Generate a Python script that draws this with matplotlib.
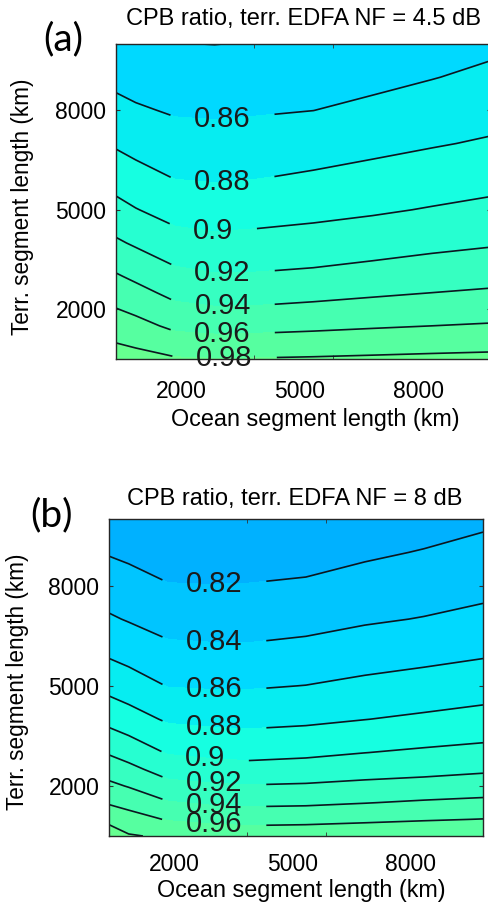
import numpy as np
import matplotlib
matplotlib.use("Agg")
import matplotlib.pyplot as plt
from matplotlib.colors import Normalize
from matplotlib.transforms import ScaledTranslation

plt.rcParams['font.family'] = ['Liberation Sans', 'DejaVu Sans']

# ---------------- data ----------------
ocean_km = [500, 1000, 2000, 3000, 4000, 5500, 7000, 8500, 10000]
terr_km = [500, 1000, 1500, 2000, 2500, 3000, 4000, 5000, 6000, 7000, 8000, 9000, 10000]

# CPB ratio, NF = 4.5 dB ; one list per ocean length (values along terr_km)
cpb_a_by_ocean = [
    [0.9897, 0.9797, 0.9702, 0.9607, 0.9512, 0.9418, 0.9228, 0.9062, 0.8913, 0.8777, 0.8658, 0.8549, 0.8449],
    [0.9869, 0.9765, 0.9662, 0.9560, 0.9460, 0.9362, 0.9175, 0.9008, 0.8864, 0.8737, 0.8623, 0.8524, 0.8429],
    [0.9818, 0.9683, 0.9559, 0.9448, 0.9347, 0.9252, 0.9077, 0.8924, 0.8789, 0.8682, 0.8580, 0.8492, 0.8404],
    [0.9806, 0.9665, 0.9536, 0.9419, 0.9316, 0.9216, 0.9049, 0.8905, 0.8777, 0.8672, 0.8572, 0.8485, 0.8398],
    [0.9809, 0.9670, 0.9542, 0.9423, 0.9319, 0.9219, 0.9060, 0.8919, 0.8789, 0.8684, 0.8582, 0.8495, 0.8408],
    [0.9818, 0.9686, 0.9560, 0.9448, 0.9342, 0.9240, 0.9082, 0.8946, 0.8822, 0.8709, 0.8599, 0.8516, 0.8433],
    [0.9829, 0.9704, 0.9581, 0.9475, 0.9372, 0.9275, 0.9113, 0.8976, 0.8859, 0.8747, 0.8642, 0.8550, 0.8467],
    [0.9840, 0.9720, 0.9600, 0.9500, 0.9400, 0.9311, 0.9149, 0.9012, 0.8896, 0.8785, 0.8688, 0.8593, 0.8513],
    [0.9849, 0.9734, 0.9616, 0.9522, 0.9423, 0.9340, 0.9180, 0.9047, 0.8930, 0.8821, 0.8729, 0.8640, 0.8560],
]

# CPB ratio, NF = 8 dB
cpb_b_by_ocean = [
    [0.9920, 0.9743, 0.9581, 0.9442, 0.9310, 0.9182, 0.8940, 0.8739, 0.8570, 0.8422, 0.8301, 0.8187, 0.8093],
    [0.9817, 0.9678, 0.9536, 0.9388, 0.9252, 0.9120, 0.8885, 0.8693, 0.8530, 0.8387, 0.8271, 0.8163, 0.8070],
    [0.9770, 0.9586, 0.9414, 0.9258, 0.9116, 0.8985, 0.8774, 0.8593, 0.8449, 0.8324, 0.8209, 0.8113, 0.8019],
    [0.9736, 0.9550, 0.9376, 0.9227, 0.9085, 0.8957, 0.8754, 0.8583, 0.8438, 0.8317, 0.8204, 0.8109, 0.8014],
    [0.9720, 0.9529, 0.9358, 0.9209, 0.9064, 0.8940, 0.8743, 0.8582, 0.8434, 0.8316, 0.8207, 0.8112, 0.8019],
    [0.9733, 0.9537, 0.9368, 0.9221, 0.9084, 0.8960, 0.8762, 0.8603, 0.8460, 0.8336, 0.8225, 0.8129, 0.8037],
    [0.9752, 0.9560, 0.9394, 0.9247, 0.9118, 0.8998, 0.8797, 0.8644, 0.8505, 0.8377, 0.8273, 0.8171, 0.8076],
    [0.9770, 0.9584, 0.9423, 0.9270, 0.9140, 0.9029, 0.8831, 0.8677, 0.8539, 0.8408, 0.8308, 0.8210, 0.8118],
    [0.9785, 0.9604, 0.9444, 0.9300, 0.9169, 0.9056, 0.8866, 0.8712, 0.8575, 0.8449, 0.8345, 0.8254, 0.8165],
]

contour_levels = [0.78, 0.80, 0.82, 0.84, 0.86, 0.88, 0.90, 0.92, 0.94, 0.96, 0.98, 1.00]
labels_a = [0.86, 0.88, 0.90, 0.92, 0.94, 0.96, 0.98]
labels_b = [0.82, 0.84, 0.86, 0.88, 0.90, 0.92, 0.94, 0.96]

title_a = "CPB ratio, terr. EDFA NF = 4.5 dB"
title_b = "CPB ratio, terr. EDFA NF = 8 dB"
xlabel = "Ocean segment length (km)"
ylabel = "Terr. segment length (km)"
tick_vals = [2000, 5000, 8000]
tick_labels = ["2000", "5000", "8000"]

# ---------------- styling / layout ----------------
W, H = 489, 909
fig = plt.figure(figsize=(W / 100, H / 100), dpi=100)
norm = Normalize(vmin=0.507, vmax=1.527)
LINE_COLOR = '#0b1620'

# label anchor points (approximate spots where labels sit)
label_spots_a = [(3200, 7680), (3200, 5780), (2950, 4300), (3200, 3080), (3200, 2080), (3200, 1230), (3250, 520)]
label_spots_b = [(3170, 8040), (3170, 6260), (3170, 4880), (3170, 3740), (2930, 2800), (3170, 2090), (3170, 1420), (3170, 860)]


def draw(ax, z_by_ocean, lab_levels, lab_spots, xpad):
    X, Y = np.meshgrid(ocean_km, terr_km)
    Z = np.array(z_by_ocean).T
    ax.contourf(X, Y, Z, levels=contour_levels, cmap='jet', norm=norm)
    for lev in contour_levels:
        cs = ax.contour(X, Y, Z, levels=[lev], colors=LINE_COLOR, linewidths=1.2)
        if lev in lab_levels:
            spot = lab_spots[lab_levels.index(lev)]
            texts = cs.clabel(manual=[spot], inline=True, inline_spacing=24,
                              fontsize=21, fmt=lambda v: f"{v:g}", colors='#1a1a1a')
            for t in texts:
                t.set_clip_on(False)
                t.set_rotation(0)
    ax.set_xlim(500, 10000)
    ax.set_ylim(500, 10000)
    ax.set_xticks(tick_vals)
    ax.set_xticklabels(tick_labels)
    ax.set_xticks([2000, 4000, 6000, 8000], minor=True)
    ax.set_yticks(tick_vals)
    ax.set_yticklabels(tick_labels)
    ax.tick_params(axis='x', which='major', length=0, pad=xpad, labelsize=16.5)
    ax.tick_params(axis='x', which='minor', direction='in', length=3, top=True, bottom=True,
                   color='#333333')
    ax.tick_params(axis='y', which='major', direction='in', length=3, right=True, pad=7,
                   labelsize=16.5, color='#333333')
    off = ScaledTranslation(6 / 100, 0, fig.dpi_scale_trans)
    for lab in ax.get_xticklabels():
        lab.set_transform(lab.get_transform() + off)
    for s in ax.spines.values():
        s.set_color('#262626')
        s.set_linewidth(1.0)


ax_a = fig.add_axes([116 / W, 1 - 359 / H, 375 / W, 315 / H])
ax_b = fig.add_axes([109 / W, 1 - 836 / H, 374 / W, 317 / H])
draw(ax_a, cpb_a_by_ocean, labels_a, label_spots_a, 15.0)
draw(ax_b, cpb_b_by_ocean, labels_b, label_spots_b, 12.0)

fig.text(304 / W, 1 - 25 / H, title_a, ha='center', va='baseline', fontsize=17)
fig.text(294.5 / W, 1 - 505 / H, title_b, ha='center', va='baseline', fontsize=17)
fig.text(63 / W, 1 - 50 / H, "(a)", ha='center', va='baseline', fontsize=28, family=['Lato', 'DejaVu Sans'])
fig.text(52 / W, 1 - 526 / H, "(b)", ha='center', va='baseline', fontsize=28, family=['Lato', 'DejaVu Sans'])
fig.text(315 / W, 1 - 426 / H, xlabel, ha='center', va='baseline', fontsize=16.8)
fig.text(301 / W, 1 - 897 / H, xlabel, ha='center', va='baseline', fontsize=16.8)
fig.text(23 / W, 1 - 207 / H, ylabel, ha='center', va='center', rotation=90, fontsize=16.3)
fig.text(17.5 / W, 1 - 682 / H, ylabel, ha='center', va='center', rotation=90, fontsize=16.3)

fig.savefig("out.png", dpi=100)
